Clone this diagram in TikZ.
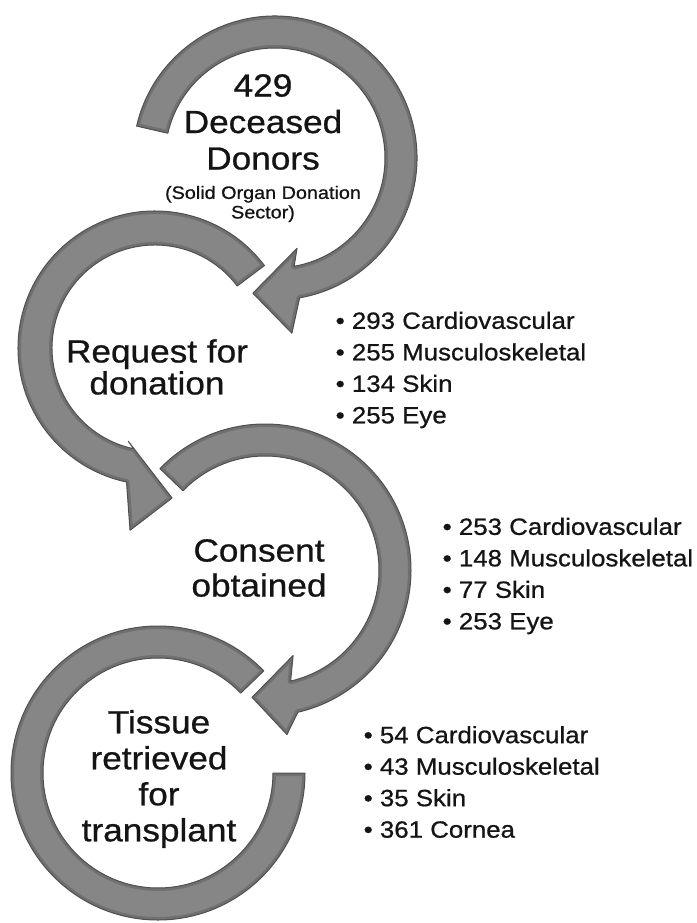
\documentclass[tikz,border=0pt]{standalone}
\usepackage{fontspec}
\usepackage{tikz}
\newfontfamily\labelfont{Liberation Sans}[FakeStretch=1.1, FakeBold=0.8]
\definecolor{ringgray}{RGB}{134,134,134}
\definecolor{ringshade}{RGB}{112,112,112}
\definecolor{ringedge}{RGB}{80,80,80}
\definecolor{labeltext}{RGB}{20,20,20}
\tikzset{
    ringfill/.style={fill=ringgray},
    ringrim/.style={draw=ringshade, line width=6pt, line join=round},
    ringline/.style={draw=ringedge, line width=1pt, line join=round},
    steplabel/.style={
        font=\labelfont\fontsize{32}{35}\selectfont,
        align=center,
        inner sep=0pt,
        text=labeltext
    },
    notelabel/.style={
        font=\labelfont\fontsize{18}{19.5}\selectfont,
        align=center,
        inner sep=0pt,
        text=labeltext
    },
    countlist/.style={
        font=\labelfont\fontsize{23.5}{31.5}\selectfont,
        align=left,
        inner sep=0pt,
        anchor=west,
        text=labeltext
    }
}
% one grey band with a darker rim
\newcommand{\bevelband}[1]{%
    \begin{scope}
        \clip #1;
        \fill[ringfill] #1;
        \draw[ringrim] #1;
    \end{scope}
    \draw[ringline] #1;
}

\begin{document}
\begin{tikzpicture}[x=1pt, y=1pt, yscale=-1]
\useasboundingbox (0,0) rectangle (696,923);

% Tissue retrieved (open ring, no head)
\begin{scope}[shift={(158,773)}]
\bevelband{(0:147) arc[start angle=0, end angle=316, radius=147]
    -- (316:115) arc[start angle=316, end angle=0, radius=115] -- cycle}
\end{scope}

% Consent obtained
\begin{scope}[shift={(265,570)}]
\bevelband{(224:146) arc[start angle=224, end angle=437, radius=146]
    -- (442.4:166) -- (455.8:128) -- (431.8:90)
    -- (437:114) arc[start angle=437, end angle=224, radius=114] -- cycle}
\end{scope}

% Request for donation
\begin{scope}[shift={(155,348)}]
\bevelband{(-37:137) arc[start angle=-37, end angle=-258, radius=137]
    -- (-262.2:184) -- (-276.5:151) -- (-254:97)
    -- (-258:103) arc[start angle=-258, end angle=-37, radius=103] -- cycle}
\end{scope}

% Deceased donors
\begin{scope}[shift={(275,158)}]
\bevelband{(193:142) arc[start angle=193, end angle=440, radius=142]
    -- (444.5:176) -- (459.3:137) -- (436.3:93)
    -- (440:110) arc[start angle=440, end angle=193, radius=110] -- cycle}
\end{scope}

% labels inside the arrows
\node[steplabel, font=\labelfont\fontsize{32}{36.5}\selectfont] (donors) at (263,122) {429\\Deceased\\Donors};
\node[notelabel] (sector) at (263,204) {(Solid Organ Donation\\Sector)};
\node[steplabel, font=\labelfont\fontsize{32}{32}\selectfont] (request) at (157,367) {Request for\\donation};
\node[steplabel] (consent) at (259,568) {Consent\\obtained};
\node[steplabel, font=\labelfont\fontsize{32}{36}\selectfont] (tissue) at (159,779) {Tissue\\retrieved\\for\\transplant};

% counts
\node[countlist] (requestcounts) at (335.5,370) {\textbullet\ 293 Cardiovascular\\\textbullet\ 255 Musculoskeletal\\\textbullet\ 134 Skin\\\textbullet\ 255 Eye};
\node[countlist] (consentcounts) at (442.5,576) {\textbullet\ 253 Cardiovascular\\\textbullet\ 148 Musculoskeletal\\\textbullet\ 77 Skin\\\textbullet\ 253 Eye};
\node[countlist] (tissuecounts) at (363.5,782) {\textbullet\ 54 Cardiovascular\\\textbullet\ 43 Musculoskeletal\\\textbullet\ 35 Skin\\\textbullet\ 361 Cornea};
\end{tikzpicture}
\end{document}
